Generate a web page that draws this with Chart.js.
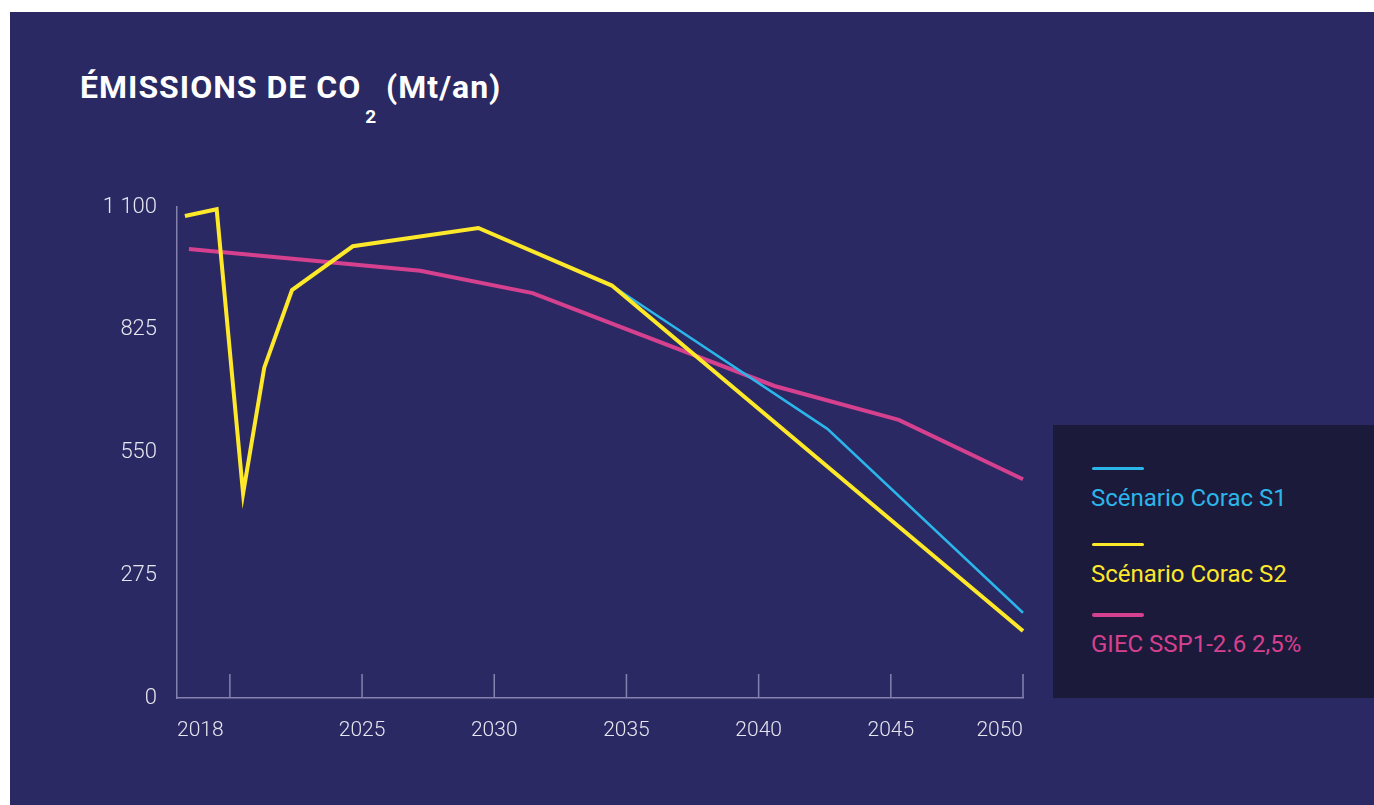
<!DOCTYPE html>
<html lang="fr">
<head>
<meta charset="utf-8">
<title>Émissions de CO2 (Mt/an)</title>
<script src="https://cdn.jsdelivr.net/npm/chart.js@4.4.1/dist/chart.umd.min.js"></script>
<style>
    html, body {
        margin: 0;
        padding: 0;
        width: 1374px;
        height: 805px;
        overflow: hidden;
        background: #ffffff;
        font-family: Roboto, "Noto Sans", sans-serif;
    }
    #panel {
        position: absolute;
        left: 10px;
        top: 12px;
        right: 0;
        bottom: 0;
        background: #2a2963;
    }
    #title {
        position: absolute;
        left: 80px;
        top: 71px;
        margin: 0;
        font-size: 32px;
        line-height: 32px;
        font-weight: 700;
        letter-spacing: 1px;
        color: #ffffff;
        white-space: nowrap;
    }
    #title .sub {
        font-size: 19px;
        letter-spacing: 0;
        vertical-align: -25px;
        margin: 0 10px 0 4px;
    }
    #chart-wrap {
        position: absolute;
        left: 0;
        top: 0;
        width: 1374px;
        height: 805px;
    }
    #legend {
        position: absolute;
        left: 1053px;
        top: 425px;
        width: 321px;
        height: 273px;
        background: #1c1a3a;
    }
    .legend-line {
        position: absolute;
        left: 39px;
        width: 52px;
        border-radius: 2px;
    }
    .legend-text {
        position: absolute;
        left: 38px;
        font-size: 24px;
        line-height: 24px;
        white-space: nowrap;
    }
</style>
</head>
<body>
<div id="panel"></div>
<h1 id="title">ÉMISSIONS DE CO<span class="sub">2</span>(Mt/an)</h1>
<div id="chart-wrap"><canvas id="co2Chart"></canvas></div>
<div id="legend"></div>

<script>
// Series labels and colours
const seriesNames = ['Scénario Corac S1', 'Scénario Corac S2', 'GIEC SSP1-2.6 2,5%'];
const seriesColors = ['#2bb5e9', '#fde82a', '#d6418f'];

// Corac S2 (yellow)
const s2Years = [2018.3, 2019.5, 2020.5, 2021.3, 2022.35, 2024.65, 2029.4, 2034.45, 2050];
const s2Values = [1080, 1095, 458, 740, 914, 1012, 1053, 924, 150];

// Corac S1 (cyan) - same path as S2 until 2034, then splits
const s1Years = [2018.3, 2019.5, 2020.5, 2021.3, 2022.35, 2024.65, 2029.4, 2034.45, 2042.6, 2050];
const s1Values = [1080, 1095, 458, 740, 914, 1012, 1053, 924, 603, 191];

// GIEC SSP1-2.6 (pink)
const giecYears = [2018.45, 2027.2, 2031.45, 2040.6, 2045.3, 2050];
const giecValues = [1006, 957, 907, 699, 623, 490];

// Axis ticks
const xLabelYears = [2018, 2025, 2030, 2035, 2040, 2045, 2050];
const xMarkYears = [2020, 2025, 2030, 2035, 2040, 2045, 2050];
const yTickValues = [0, 275, 550, 825, 1100];

const axisColor = '#8583ad';
const tickTextColor = '#e6e6f0';

// Zip years and values into {x, y} points
const toPoints = (years, values) => years.map((year, i) => ({ x: year, y: values[i] }));

// French thousands separator: 1100 -> "1 100"
const formatFr = (value) => String(value).replace(/\B(?=(\d{3})+(?!\d))/g, ' ');

// Short tick marks standing up from the x axis
const tickMarks = {
    id: 'tickMarks',
    beforeDatasetsDraw(chart) {
        const { ctx, chartArea, scales: { x } } = chart;
        ctx.save();
        ctx.strokeStyle = axisColor;
        ctx.lineWidth = 1.5;
        xMarkYears.forEach(year => {
            const px = x.getPixelForValue(year);
            ctx.beginPath();
            ctx.moveTo(px, chartArea.bottom);
            ctx.lineTo(px, chartArea.bottom - 24);
            ctx.stroke();
        });
        ctx.restore();
    }
};

const ctx = document.getElementById('co2Chart').getContext('2d');
const co2Chart = new Chart(ctx, {
    type: 'line',
    data: {
        datasets: [
            {
                label: seriesNames[0],
                data: toPoints(s1Years, s1Values),
                borderColor: seriesColors[0],
                borderWidth: 2.5,
                order: 1
            },
            {
                label: seriesNames[1],
                data: toPoints(s2Years, s2Values),
                borderColor: seriesColors[1],
                borderWidth: 4,
                order: 0
            },
            {
                label: seriesNames[2],
                data: toPoints(giecYears, giecValues),
                borderColor: seriesColors[2],
                borderWidth: 4,
                order: 2
            }
        ]
    },
    options: {
        responsive: true,
        maintainAspectRatio: false,
        animation: false,
        layout: {
            padding: { top: 207, right: 351, bottom: 0, left: 0 }
        },
        elements: {
            point: { radius: 0, hoverRadius: 0 },
            line: { tension: 0, fill: false }
        },
        datasets: {
            line: { clip: false }
        },
        scales: {
            x: {
                type: 'linear',
                min: 2018,
                max: 2050,
                grid: { display: false, drawTicks: false },
                border: { display: true, color: axisColor, width: 1.5 },
                afterBuildTicks: (scale) => {
                    scale.ticks = xLabelYears.map(v => ({ value: v }));
                },
                afterFit: (scale) => {
                    scale.height = 107;
                },
                ticks: {
                    autoSkip: false,
                    maxRotation: 0,
                    align: 'inner',
                    padding: 20,
                    color: tickTextColor,
                    font: { family: 'Roboto', size: 21, weight: 300 },
                    callback: (value) => String(value)
                }
            },
            y: {
                min: 0,
                max: 1100,
                grid: { display: false, drawTicks: false },
                border: { display: true, color: axisColor, width: 1.5 },
                afterBuildTicks: (scale) => {
                    scale.ticks = yTickValues.map(v => ({ value: v }));
                },
                afterFit: (scale) => {
                    scale.width = 177;
                },
                ticks: {
                    padding: 20,
                    color: tickTextColor,
                    font: { family: 'Roboto', size: 22, weight: 300 },
                    callback: (value) => formatFr(value)
                }
            }
        },
        plugins: {
            legend: { display: false },
            tooltip: { enabled: false }
        }
    },
    plugins: [tickMarks]
});

// Build the legend box
const legendLineTops = [42, 118, 188];
const legendLineHeights = [3, 3, 4];
const legendTextTops = [61, 137, 207];

const legendBox = document.getElementById('legend');
seriesNames.forEach((name, i) => {
    const line = document.createElement('div');
    line.className = 'legend-line';
    line.style.top = legendLineTops[i] + 'px';
    line.style.height = legendLineHeights[i] + 'px';
    line.style.background = seriesColors[i];
    legendBox.appendChild(line);

    const text = document.createElement('div');
    text.className = 'legend-text';
    text.style.top = legendTextTops[i] + 'px';
    text.style.color = seriesColors[i];
    text.textContent = name;
    legendBox.appendChild(text);
});
</script>
</body>
</html>
